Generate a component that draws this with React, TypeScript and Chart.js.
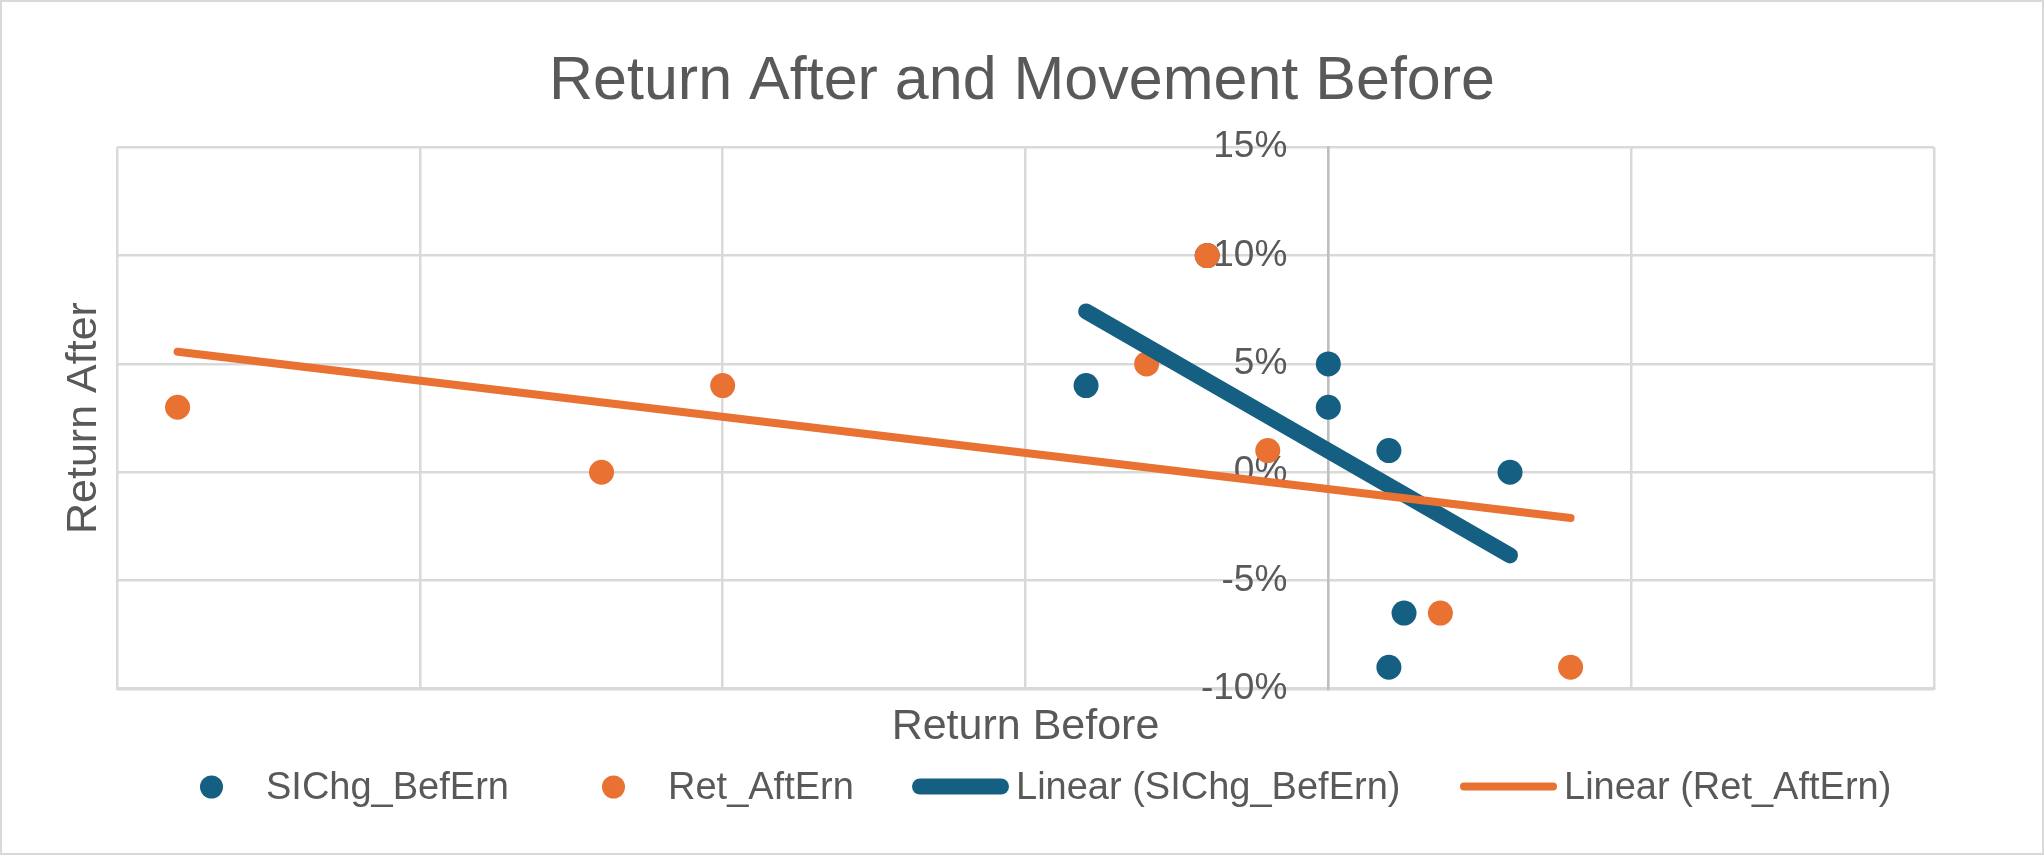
import React, { useEffect, useRef } from "react";
import { Chart, registerables } from "chart.js";

Chart.register(...registerables);

// ---------- data ----------
const TITLE = "Return After and Movement Before";
const X_TITLE = "Return Before";
const Y_TITLE = "Return After";
const SERIES_NAMES = ["SIChg_BefErn", "Ret_AftErn"];
const TREND_NAMES = ["Linear (SIChg_BefErn)", "Linear (Ret_AftErn)"];

// SIChg_BefErn (one point hidden beneath an orange marker)
const siX = [-0.08, -0.04, 0.0, 0.0, 0.02, 0.02, 0.025, 0.06];
const siY = [0.04, 0.10, 0.05, 0.03, 0.01, -0.09, -0.065, 0.0];
// Ret_AftErn
const retX = [-0.38, -0.24, -0.2, -0.06, -0.04, -0.02, 0.037, 0.08];
const retY = [0.03, 0.0, 0.04, 0.05, 0.10, 0.01, -0.065, -0.09];

const X_MIN = -0.4;
const X_MAX = 0.2;
const X_STEP = 0.1;
const Y_MIN = -0.1;
const Y_MAX = 0.15;
const Y_STEP = 0.05;

// ---------- styles ----------
const BLUE = "#156082";
const ORANGE = "#E97132";
const TEXT = "#595959";
const GRID = "#d9d9d9";
const FONT = "'Liberation Sans', Arial, Helvetica, sans-serif";

function toPoints(xs: number[], ys: number[]) {
  return xs.map((x, i) => ({ x, y: ys[i] }));
}

function pct(v: number) {
  return `${Math.round(v * 100)}%`;
}

// Least-squares linear trendline over the series' x range
function linearTrend(xs: number[], ys: number[]) {
  const n = xs.length;
  const mx = xs.reduce((a, b) => a + b, 0) / n;
  const my = ys.reduce((a, b) => a + b, 0) / n;
  let sxy = 0;
  let sxx = 0;
  for (let i = 0; i < n; i++) {
    sxy += (xs[i] - mx) * (ys[i] - my);
    sxx += (xs[i] - mx) * (xs[i] - mx);
  }
  const slope = sxy / sxx;
  const icpt = my - slope * mx;
  const x0 = Math.min(...xs);
  const x1 = Math.max(...xs);
  return [
    { x: x0, y: icpt + slope * x0 },
    { x: x1, y: icpt + slope * x1 },
  ];
}

const backgroundPlugin = {
  id: "bgBorder",
  beforeDraw(chart: any) {
    const { ctx, width, height } = chart;
    ctx.save();
    ctx.fillStyle = "#ffffff";
    ctx.fillRect(0, 0, width, height);
    ctx.strokeStyle = GRID;
    ctx.lineWidth = 2;
    ctx.strokeRect(1, 1, width - 2, height - 2);
    ctx.restore();
  },
};

// Value-axis labels sit to the left of the axis that crosses at x = 0
const yLabelPlugin = {
  id: "yAxisLabels",
  beforeDatasetsDraw(chart: any) {
    const ctx = chart.ctx;
    const ys = chart.scales.y;
    const xAxisPix = chart.scales.x.getPixelForValue(0);
    ctx.save();
    ctx.font = `37px ${FONT}`;
    ctx.fillStyle = TEXT;
    ctx.textAlign = "right";
    ctx.textBaseline = "middle";
    ys.ticks.forEach((t: any) => {
      ctx.fillText(pct(t.value), xAxisPix - 41, ys.getPixelForValue(t.value));
    });
    ctx.restore();
  },
};

const legendPlugin = {
  id: "excelLegend",
  afterDraw(chart: any) {
    const ctx = chart.ctx;
    const ds = chart.data.datasets;
    const starts = [200, 602, 912, 1460];
    const textY = 799;
    const markY = 787;
    ctx.save();
    ctx.font = `38px ${FONT}`;
    ctx.textBaseline = "alphabetic";
    ctx.textAlign = "left";
    ds.forEach((d: any, i: number) => {
      const sx = starts[i];
      let tx: number;
      if (!d.showLine) {
        ctx.beginPath();
        ctx.fillStyle = d.backgroundColor;
        ctx.arc(sx + 11.5, markY, 11.5, 0, Math.PI * 2);
        ctx.fill();
        tx = sx + 66;
      } else {
        const w = d.borderWidth;
        ctx.beginPath();
        ctx.strokeStyle = d.borderColor;
        ctx.lineWidth = w;
        ctx.lineCap = "round";
        ctx.moveTo(sx + w / 2, markY - 0.5);
        ctx.lineTo(sx + 97 - w / 2, markY - 0.5);
        ctx.stroke();
        tx = sx + 104;
      }
      ctx.fillStyle = TEXT;
      ctx.fillText(d.label, tx, textY);
    });
    ctx.restore();
  },
};

export default function App() {
  const ref = useRef<HTMLCanvasElement | null>(null);

  useEffect(() => {
    document.body.style.margin = "0";
    const canvas = ref.current;
    if (!canvas) return;
    Chart.defaults.font.family = FONT;
    const chart = new Chart(canvas, {
      type: "scatter",
      data: {
        datasets: [
          {
            label: SERIES_NAMES[0],
            data: toPoints(siX, siY),
            backgroundColor: BLUE,
            borderColor: BLUE,
            pointRadius: 12.5,
            pointHoverRadius: 12.5,
            pointBorderWidth: 0,
            showLine: false,
            order: 4,
          },
          {
            label: SERIES_NAMES[1],
            data: toPoints(retX, retY),
            backgroundColor: ORANGE,
            borderColor: ORANGE,
            pointRadius: 12.5,
            pointHoverRadius: 12.5,
            pointBorderWidth: 0,
            showLine: false,
            order: 3,
          },
          {
            label: TREND_NAMES[0],
            data: linearTrend(siX, siY),
            showLine: true,
            borderColor: BLUE,
            backgroundColor: BLUE,
            borderWidth: 16,
            borderCapStyle: "round",
            pointRadius: 0,
            pointHoverRadius: 0,
            order: 2,
          },
          {
            label: TREND_NAMES[1],
            data: linearTrend(retX, retY),
            showLine: true,
            borderColor: ORANGE,
            backgroundColor: ORANGE,
            borderWidth: 8,
            borderCapStyle: "round",
            pointRadius: 0,
            pointHoverRadius: 0,
            order: 1,
          },
        ] as any,
      },
      options: {
        responsive: false,
        animation: false,
        layout: { padding: { left: 30, right: 30, top: 0, bottom: 100 } },
        plugins: {
          legend: { display: false },
          tooltip: { enabled: false },
          title: {
            display: true,
            text: TITLE,
            color: TEXT,
            font: { family: FONT, size: 61, weight: "normal" },
            padding: { top: 46, bottom: 28 },
          },
        },
        scales: {
          x: {
            type: "linear",
            min: X_MIN,
            max: X_MAX,
            ticks: { display: false, stepSize: X_STEP },
            grid: { color: GRID, lineWidth: 2.5, drawTicks: false },
            border: { display: true, color: GRID, width: 3 },
            title: {
              display: true,
              text: X_TITLE,
              color: TEXT,
              font: { family: FONT, size: 43 },
              padding: { top: 12, bottom: 2.5 },
            },
          },
          y: {
            type: "linear",
            position: { x: 0 } as any,
            min: Y_MIN,
            max: Y_MAX,
            ticks: { display: false, stepSize: Y_STEP },
            grid: { color: GRID, lineWidth: 2.5, drawTicks: false },
            border: { display: true, color: "#bfbfbf", width: 2.5 },
          },
          yTitle: {
            type: "linear",
            position: "left",
            display: true,
            ticks: { display: false },
            grid: { display: false, drawTicks: false },
            border: { display: false },
            title: {
              display: true,
              text: Y_TITLE,
              color: TEXT,
              font: { family: FONT, size: 43 },
              padding: { top: 28, bottom: 7 },
            },
            afterFit: (s: any) => {
              s.width = 87;
            },
          },
          yRight: {
            type: "linear",
            position: "right",
            display: true,
            ticks: { display: false },
            grid: { display: false, drawTicks: false },
            border: { display: false },
            afterFit: (s: any) => {
              s.width = 80;
            },
          },
        } as any,
      },
      plugins: [backgroundPlugin, yLabelPlugin, legendPlugin],
    });
    return () => chart.destroy();
  }, []);

  return (
    <div style={{ width: 2044, height: 855 }}>
      <canvas ref={ref} width={2044} height={855} style={{ display: "block" }} />
    </div>
  );
}
